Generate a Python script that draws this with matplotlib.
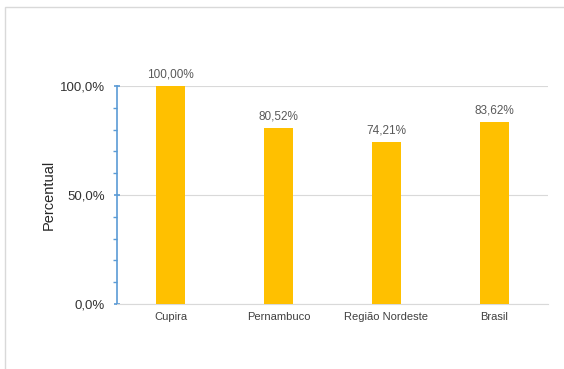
import matplotlib
matplotlib.use("Agg")
import matplotlib.pyplot as plt
from matplotlib.patches import Rectangle
from matplotlib.ticker import MultipleLocator, FuncFormatter

categorias = ["Cupira", "Pernambuco", "Região Nordeste", "Brasil"]
valores = [100.00, 80.52, 74.21, 83.62]

plt.rcParams["font.family"] = ["Liberation Sans", "DejaVu Sans"]

fig = plt.figure(figsize=(5.64, 3.69), dpi=100)
ax = fig.add_axes([117/564, 1 - 304/369, 431/564, 218/369])

x = range(len(categorias))
ax.bar(x, valores, width=0.27, color="#FFC000", zorder=3)

for xi, v in zip(x, valores):
    rotulo = f"{v:.2f}%".replace(".", ",")
    ax.annotate(rotulo, (xi, v), xytext=(0, 4), textcoords="offset points",
                ha="center", va="bottom", fontsize=8.5, color="#595959")

ax.set_xlim(-0.5, len(categorias) - 0.5)
ax.set_ylim(0, 100)
ax.set_xticks(list(x))
ax.set_xticklabels(categorias, fontsize=8, color="#404040")
ax.tick_params(axis="x", length=0, pad=6)

ax.yaxis.set_major_locator(MultipleLocator(50))
ax.yaxis.set_minor_locator(MultipleLocator(10))
ax.yaxis.set_major_formatter(FuncFormatter(lambda v, p: f"{v:.1f}%".replace(".", ",")))
ax.tick_params(axis="y", which="major", direction="inout", length=5, width=1.2,
               color="#5B9BD5", labelsize=9.5, labelcolor="#333333", pad=6)
ax.tick_params(axis="y", which="minor", length=3, width=1, color="#5B9BD5")

ax.grid(axis="y", color="#D9D9D9", linewidth=0.8, zorder=0)
for s in ["top", "right"]:
    ax.spines[s].set_visible(False)
ax.spines["left"].set_color("#5B9BD5")
ax.spines["left"].set_linewidth(1.2)
ax.spines["bottom"].set_color("#D9D9D9")

ax.set_ylabel("Percentual", fontsize=10.5, color="#262626", labelpad=3)

fig.add_artist(Rectangle((5/564, -0.05), 1.2, 1 - 7/369 + 0.05,
                         transform=fig.transFigure, fill=False,
                         edgecolor="#D9D9D9", linewidth=1))

fig.savefig("out.png", dpi=100)
